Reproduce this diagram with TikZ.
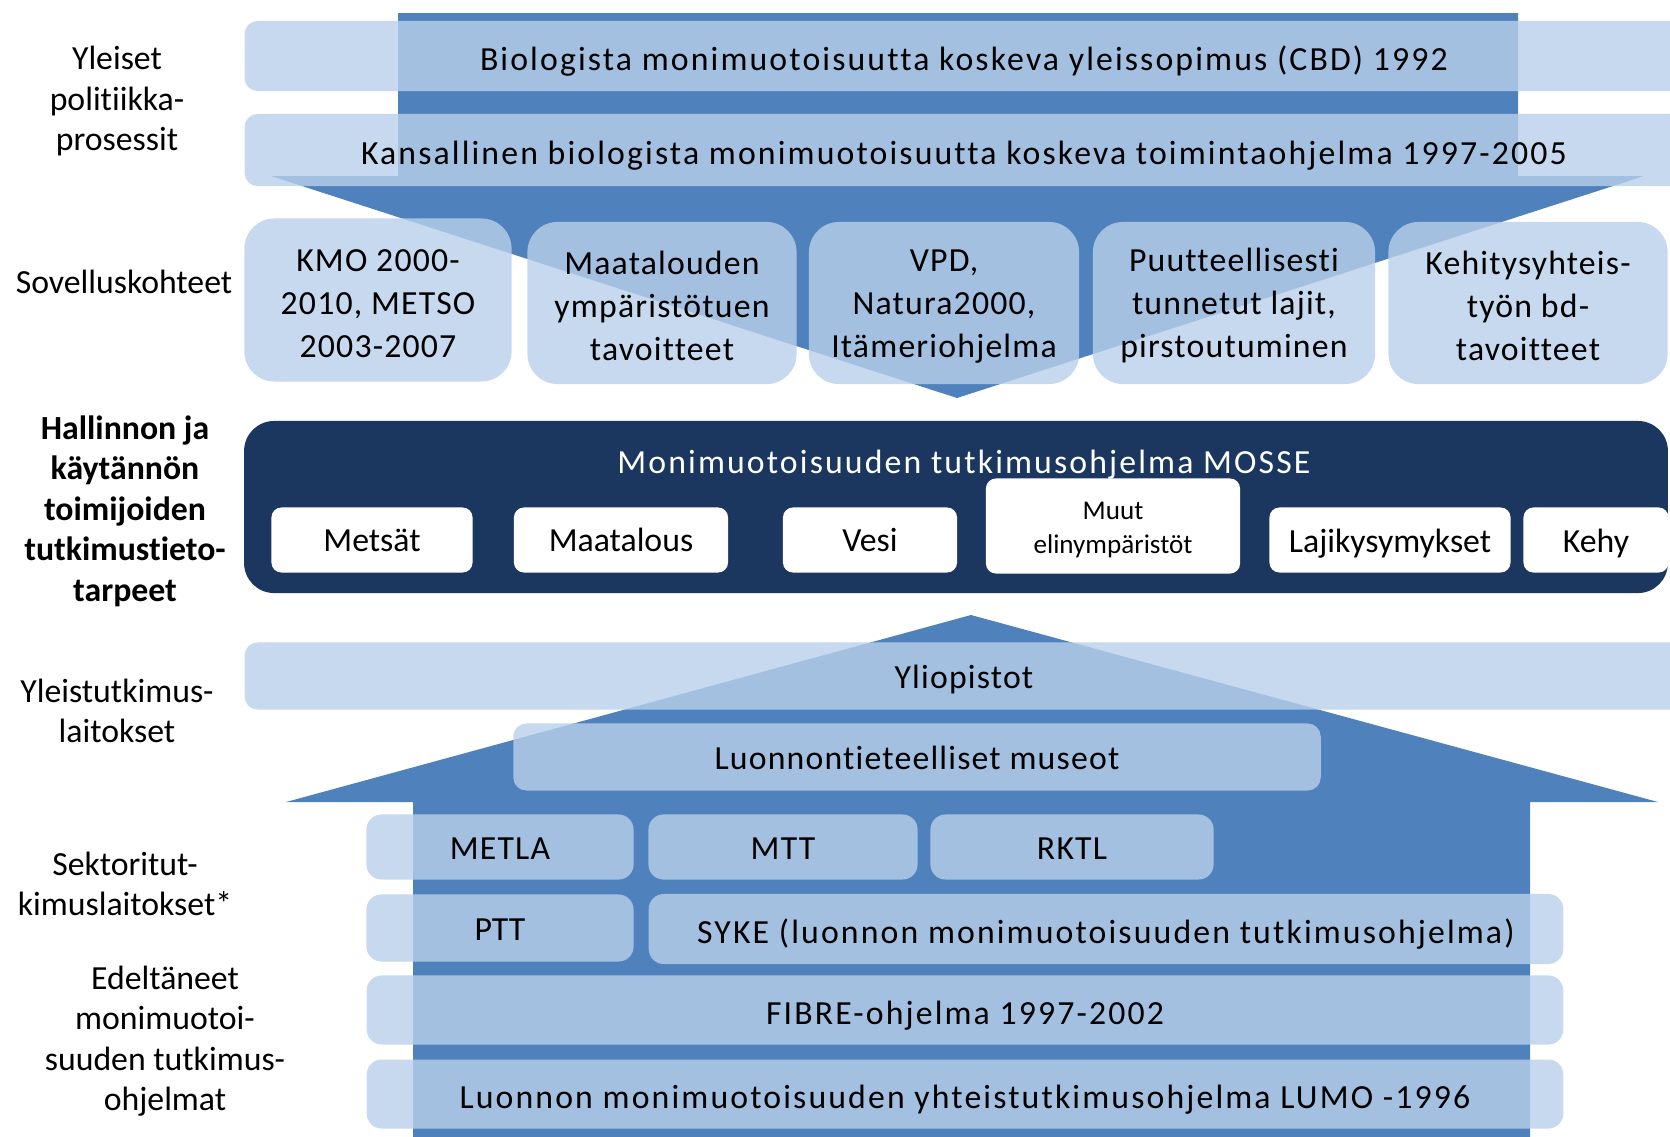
\documentclass[tikz,border=0pt]{standalone}
\usepackage{fontspec}
\setmainfont{Carlito}[Ligatures=NoCommon]
\newfontfamily\widefont[LetterSpace=6.3, Ligatures=NoCommon]{Carlito}
\newfontfamily\midfont[LetterSpace=3.5, Ligatures=NoCommon]{Carlito}
\definecolor{arrowblue}{HTML}{4F81BD}
\definecolor{bandblue}{HTML}{B8D0EA}
\definecolor{mossenavy}{HTML}{1B375F}

\begin{document}
\begin{tikzpicture} [x = 0.01cm, y = -0.01cm,
  every node/.style = {font=\fontsize{9.6}{12.2}\selectfont, inner sep=0pt},
  widetext/.style = {font=\widefont\fontsize{9.6}{12.2}\selectfont},
  midtext/.style = {font=\midfont\fontsize{9.6}{12.2}\selectfont},
  oneline/.style = {text height=7.3pt, text depth=0pt},
  lowline/.style = {text height=8.4pt, text depth=0pt},
  band/.style = {rounded corners=0.13cm, fill=bandblue, fill opacity=0.8, text opacity=1, oneline},
  tile/.style = {rounded corners=0.3cm, fill=bandblue, fill opacity=0.8, text opacity=1, align=center, midtext},
  field/.style = {rounded corners=0.1cm, fill=white, minimum height=0.65cm},
  sector/.style = {rounded corners=0.15cm, fill=bandblue, fill opacity=0.8, text opacity=1, oneline},
  lbl/.style = {align=center, font=\fontsize{9.6}{11.5}\selectfont}]
\useasboundingbox (0,0) rectangle (1670,1136);
\clip (0,0) rectangle (1670,1136);

% down and up arrows
\fill [arrowblue] (398,13) -- (1518,13) -- (1518,176) -- (1644,176) -- (957,398) -- (271,176) -- (398,176) -- cycle;
\fill [arrowblue] (971,615) -- (1658,802) -- (1530,802) -- (1530,1140) -- (413,1140) -- (413,802) -- (286,802) -- cycle;

% policy processes
\node[band, widetext, lowline, minimum width=14.38cm, minimum height=0.70cm] (cbd) at (964,56) {Biologista monimuotoisuutta koskeva yleissopimus (CBD) 1992};
\node[band, widetext, lowline, minimum width=14.38cm, minimum height=0.72cm] (nap) at (964,150) {Kansallinen biologista monimuotoisuutta koskeva toimintaohjelma 1997-2005};

% applications
\node[tile, minimum width=2.67cm, minimum height=1.63cm] (kmo) at (378,300) {\rule{0pt}{8.3pt}KMO 2000-\\2010, METSO\\2003-2007};
\node[tile, minimum width=2.69cm, minimum height=1.62cm] (maat) at (662,303) {\rule{0pt}{8.3pt}Maatalouden\\ympäristötuen\\tavoitteet};
\node[tile, minimum width=2.70cm, minimum height=1.62cm] (vpd) at (944,303) {\rule{0pt}{8.3pt}VPD,\\Natura2000,\\Itämeriohjelma};
\node[tile, minimum width=2.82cm, minimum height=1.62cm] (puut) at (1234,303) {\rule{0pt}{8.3pt}Puutteellisesti\\tunnetut lajit,\\pirstoutuminen};
\node[tile, minimum width=2.79cm, minimum height=1.62cm] (kehit) at (1528,303) {\rule{0pt}{8.3pt}Kehitysyhteis-\\työn bd-\\tavoitteet};

% MOSSE
\node[rounded corners=0.3cm, fill=mossenavy, minimum width=14.23cm, minimum height=1.72cm] (mosse) at (956,507) {};
\node[text=white, widetext, oneline] (mossetitle) at (964,461) {Monimuotoisuuden tutkimusohjelma MOSSE};
\node[field, minimum width=2.01cm] (mets) at (372,540) {Metsät};
\node[field, minimum width=2.14cm] (maatal) at (621,540) {Maatalous};
\node[field, minimum width=1.74cm] (vesi) at (870,540) {Vesi};
\node[field, minimum width=2.54cm, minimum height=0.95cm, align=center, font=\fontsize{7.7}{9.7}\selectfont] (muut) at (1113,526) {\rule{0pt}{7.3pt}Muut\\elinympäristöt};
\node[field, oneline, minimum width=2.41cm] (laji) at (1390,540) {Lajikysymykset};
\node[field, oneline, minimum width=1.45cm] (kehy) at (1596,540) {Kehy};

% research institutes
\node[band, midtext, minimum width=14.38cm, minimum height=0.67cm] (yliop) at (964,676) {Yliopistot};
\node[band, midtext, minimum width=8.07cm, minimum height=0.67cm] (museot) at (917,757) {Luonnontieteelliset museot};
\node[sector, midtext, minimum width=2.67cm, minimum height=0.65cm] (metla) at (500,847) {METLA};
\node[sector, midtext, minimum width=2.69cm, minimum height=0.65cm] (mtt) at (783,847) {MTT};
\node[sector, midtext, minimum width=2.83cm, minimum height=0.65cm] (rktl) at (1072,847) {RKTL};
\node[sector, minimum width=2.67cm, minimum height=0.67cm] (ptt) at (500,928) {PTT};
\node[sector, widetext, lowline, minimum width=9.14cm, minimum height=0.70cm] (syke) at (1106,929) {SYKE (luonnon monimuotoisuuden tutkimusohjelma)};
\node[sector, widetext, lowline, minimum width=11.96cm, minimum height=0.69cm] (fibre) at (965,1010) {FIBRE-ohjelma 1997-2002};
\node[sector, widetext, lowline, minimum width=11.96cm, minimum height=0.69cm] (lumo) at (965,1094) {Luonnon monimuotoisuuden yhteistutkimusohjelma LUMO -1996};

% row labels
\node[lbl] (l-pol) at (117,101) {Yleiset\\politiikka-\\prosessit};
\node[lbl] (l-sov) at (124,282) {Sovelluskohteet};
\node[lbl, font=\bfseries\fontsize{9.6}{11.5}\selectfont] (l-hal) at (125,511) {Hallinnon ja\\käytännön\\toimijoiden\\tutkimustieto-\\tarpeet};
\node[lbl] (l-yle) at (117,711) {Yleistutkimus-\\laitokset};
\node[lbl] (l-sek) at (125,884) {Sektoritut-\\kimuslaitokset*};
\node[lbl] (l-ede) at (165,1041) {Edeltäneet\\monimuotoi-\\suuden tutkimus-\\ohjelmat};
\end{tikzpicture}
\end{document}
